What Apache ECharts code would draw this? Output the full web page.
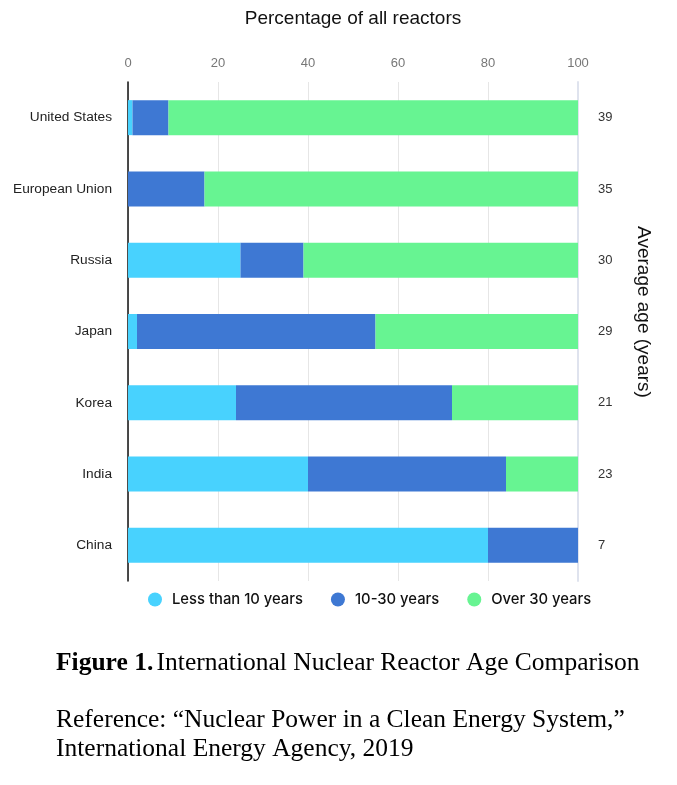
<!DOCTYPE html>
<html><head><meta charset="utf-8">
<script src="https://cdn.jsdelivr.net/npm/echarts@6/dist/echarts.min.js"></script>
<style>html,body{margin:0;padding:0;background:#fff}#c{width:677px;height:785px}</style>
</head><body><div id="c"></div>
<script>
const categories = ['United States','European Union','Russia','Japan','Korea','India','China'];
const lessThan10 = [1, 0, 25, 2, 24, 40, 80];
const tenTo30 = [8, 17, 14, 53, 48, 44, 20];
const over30 = [91, 83, 61, 45, 28, 16, 0];
const averageAge = ['39','35','30','29','21','23','7'];
const xTicks = [0, 20, 40, 60, 80, 100];

const colors = ['#48D2FE', '#3E78D3', '#67F492'];
const chart = echarts.init(document.getElementById('c'));
const sans = '"Liberation Sans", Arial, sans-serif';
const serif = '"Liberation Serif", "Times New Roman", serif';
chart.setOption({
  animation: false,
  color: colors,
  grid: {left: 128, right: 99, top: 82, bottom: 204, containLabel: false},
  legend: {
    top: 587, left: 143, itemGap: 28, icon: 'circle', itemWidth: 24, itemHeight: 14,
    textStyle: {fontFamily: 'Inter, sans-serif', fontSize: 14.8, fontWeight: 500, color: '#111'}
  },
  xAxis: {
    type: 'value', position: 'top', min: xTicks[0], max: xTicks[xTicks.length-1], interval: 20,
    name: 'Percentage of all reactors', nameLocation: 'middle', nameGap: 54,
    nameTextStyle: {fontFamily: sans, fontSize: 19, color: '#111'},
    axisLabel: {fontFamily: sans, fontSize: 13, color: '#777', margin: 12},
    axisLine: {show: false}, axisTick: {show: false},
    splitLine: {lineStyle: {color: '#e6e6e6'}}
  },
  yAxis: [{
    type: 'category', data: categories, inverse: true,
    axisLine: {lineStyle: {color: '#111', width: 1.5}}, axisTick: {show: false},
    axisLabel: {fontFamily: sans, fontSize: 13.7, color: '#222', margin: 16}
  }, {
    type: 'category', data: averageAge, inverse: true, position: 'right',
    axisLine: {lineStyle: {color: '#dfe3ee', width: 2}}, axisTick: {show: false},
    axisLabel: {fontFamily: sans, fontSize: 13, color: '#333', margin: 20}
  }],
  series: [
    {name: 'Less than 10 years', type: 'bar', stack: 's', data: lessThan10, barWidth: 35},
    {name: '10-30 years', type: 'bar', stack: 's', data: tenTo30, barWidth: 35},
    {name: 'Over 30 years', type: 'bar', stack: 's', data: over30, barWidth: 35}
  ],
  graphic: [
    {type: 'text', x: 643, y: 312, rotation: -Math.PI/2, style: {fontFamily: sans, fontSize: 19, fill: '#111', text: 'Average age (years)', align: 'center', verticalAlign: 'middle'}},
    {type: 'text', left: 56, top: 650, style: {rich: {b: {fontFamily: serif, fontSize: 25.5, fontWeight: 'bold', fill: '#000'}, n: {fontFamily: serif, fontSize: 25.5, fill: '#000'}}, text: '{b|Figure 1.} {n|International Nuclear Reactor Age Comparison}'}},
    {type: 'text', left: 56, top: 707, style: {fontFamily: serif, fontSize: 25.5, fill: '#000', text: 'Reference: \u201CNuclear Power in a Clean Energy System,\u201D'}},
    {type: 'text', left: 56, top: 736, style: {fontFamily: serif, fontSize: 25.5, fill: '#000', text: 'International Energy Agency, 2019'}}
  ]
});
</script></body></html>
